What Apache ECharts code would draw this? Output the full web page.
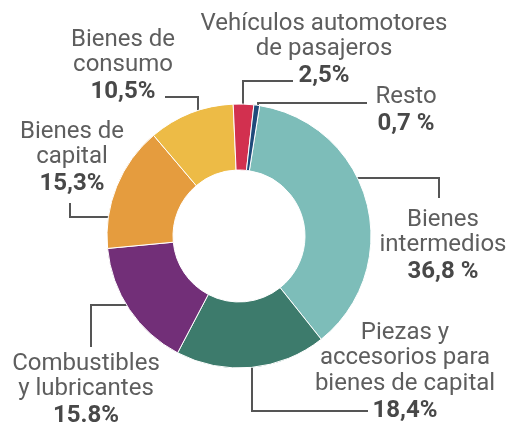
<!DOCTYPE html>
<html>
<head>
<meta charset="utf-8">
<script src="https://cdn.jsdelivr.net/npm/echarts@6/dist/echarts.min.js"></script>
<style>html,body{margin:0;padding:0;background:#fff;}#c{width:511px;height:423px;}</style>
</head>
<body>
<div id="c"></div>
<script>
// Data
const categories = ['Bienes\nintermedios', 'Piezas y\naccesorios para\nbienes de capital', 'Combustibles\ny lubricantes', 'Bienes de\ncapital', 'Bienes de\nconsumo', 'Vehículos automotores\nde pasajeros', 'Resto'];
const values = [36.8, 18.4, 15.8, 15.3, 10.5, 2.5, 0.7];
const valueLabels = ['36,8 %', '18,4%', '15.8%', '15,3%', '10,5%', '2,5%', '0,7 %'];

// Styling / layout (not data)
const colors = ['#7dbdb9', '#3d7b6c', '#722f78', '#e59c3e', '#edbb46', '#d2304f', '#1e4a7a'];
const labelPos = [
  {x: 443, y: 207, line: [[342,178],[439,178],[439,198]]},
  {x: 405, y: 320, line: [[252,355],[252,411],[368,411]]},
  {x: 86,  y: 351, line: [[138,305],[91,305],[91,347]]},
  {x: 72,  y: 119, line: [[112,217],[70,217],[70,203]]},
  {x: 123, y: 27,  line: [[198,126],[198,97],[165,97]]},
  {x: 324, y: 11,  line: [[243,110],[243,81],[293,81]]},
  {x: 406, y: 84,  line: [[258,110],[258,103],[367,103]]}
];

const chart = echarts.init(document.getElementById('c'), null, {renderer: 'canvas'});
chart.setOption({
  animation: false,
  series: [{
    type: 'pie',
    center: [239, 236],
    radius: [66, 132],
    startAngle: 81,
    clockwise: true,
    avoidLabelOverlap: false,
    itemStyle: {borderColor: '#fff', borderWidth: 1},
    label: {
      show: true,
      formatter: p => {
        const names = categories[p.dataIndex].split('\n').map(s => '{n|' + s + '}').join('\n');
        return names + '\n{v|' + valueLabels[p.dataIndex] + '}';
      },
      rich: {
        n: {fontFamily: 'Roboto', fontSize: 24, color: '#5e5e5e', lineHeight: 25.5, align: 'center'},
        v: {fontFamily: 'Roboto', fontSize: 24, fontWeight: 'bold', color: '#484848', lineHeight: 28, align: 'center'}
      }
    },
    labelLine: {show: true, lineStyle: {color: '#555', width: 2}},
    labelLayout: params => {
      const L = labelPos[params.dataIndex];
      return {x: L.x, y: L.y, align: 'center', verticalAlign: 'top', labelLinePoints: L.line};
    },
    data: categories.map((c, i) => ({name: c, value: values[i], itemStyle: {color: colors[i]}}))
  }]
});
</script>
</body>
</html>
